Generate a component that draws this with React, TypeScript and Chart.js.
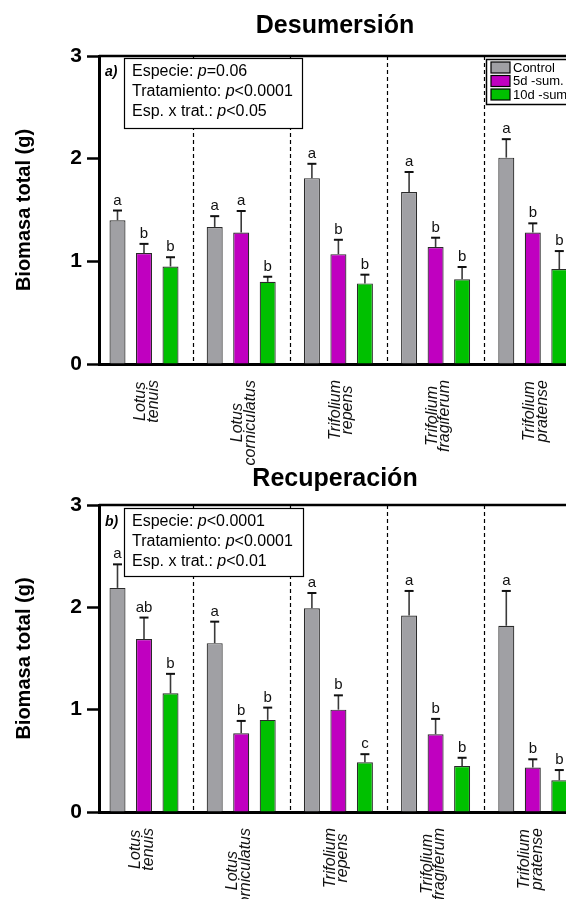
import { useEffect, useRef } from "react";
import { Chart, registerables } from "chart.js";

Chart.register(...registerables);

const FONT = "'Liberation Sans', Arial, Helvetica, sans-serif";

// ---------- data ----------
const categories: string[][] = [
  ["Lotus", "tenuis"],
  ["Lotus", "corniculatus"],
  ["Trifolium", "repens"],
  ["Trifolium", "fragiferum"],
  ["Trifolium", "pratense"],
];
const seriesNames = ["Control", "5d -sum.", "10d -sum."];
const seriesColors = ["#A0A0A4", "#C000C0", "#00C000"];
const yTicks = [0, 1, 2, 3];

// a) Desumersión
const desControl = [1.4, 1.335, 1.81, 1.675, 2.01];
const desControlErr = [0.095, 0.105, 0.14, 0.195, 0.18];
const des5d = [1.08, 1.28, 1.07, 1.14, 1.28];
const des5dErr = [0.09, 0.21, 0.14, 0.09, 0.09];
const des10d = [0.95, 0.8, 0.785, 0.825, 0.925];
const des10dErr = [0.09, 0.05, 0.085, 0.12, 0.175];
const desLetControl = ["a", "a", "a", "a", "a"];
const desLet5d = ["b", "a", "b", "b", "b"];
const desLet10d = ["b", "b", "b", "b", "b"];
const desStats = [
  ["Especie: ", "p", "=0.06"],
  ["Tratamiento: ", "p", "<0.0001"],
  ["Esp. x trat.: ", "p", "<0.05"],
];

// b) Recuperación
const recControl = [2.19, 1.65, 1.99, 1.92, 1.82];
const recControlErr = [0.23, 0.21, 0.15, 0.24, 0.34];
const rec5d = [1.69, 0.77, 1.0, 0.76, 0.435];
const rec5dErr = [0.21, 0.12, 0.14, 0.15, 0.08];
const rec10d = [1.16, 0.9, 0.485, 0.45, 0.31];
const rec10dErr = [0.19, 0.12, 0.08, 0.08, 0.1];
const recLetControl = ["a", "a", "a", "a", "a"];
const recLet5d = ["ab", "b", "b", "b", "b"];
const recLet10d = ["b", "b", "c", "b", "b"];
const recStats = [
  ["Especie: ", "p", "<0.0001"],
  ["Tratamiento: ", "p", "<0.0001"],
  ["Esp. x trat.: ", "p", "<0.01"],
];

// ---------- layout ----------
const CANVAS_W = 640;
const AXIS_LEFT = 99;
const FIRST_CENTER = 144;
const PX_PER_CAT = 97.2;

interface PanelDef {
  title: string;
  tag: string;
  values: number[][];
  errors: number[][];
  letters: string[][];
  stats: string[][];
  legend: boolean;
  offsetTop: number;
  height: number;
  top: number;
  bottomPad: number;
  titleBaseline: number;
  labelShift: number;
  boxRight: number;
  boxBottom: number;
  boxTop: number;
}

const panels: PanelDef[] = [
  {
    title: "Desumersión",
    tag: "a)",
    values: [desControl, des5d, des10d],
    errors: [desControlErr, des5dErr, des10dErr],
    letters: [desLetControl, desLet5d, desLet10d],
    stats: desStats,
    legend: true,
    offsetTop: 0,
    height: 480,
    top: 56,
    bottomPad: 116,
    titleBaseline: 33,
    labelShift: 3,
    boxTop: 2,
    boxRight: 302,
    boxBottom: 72,
  },
  {
    title: "Recuperación",
    tag: "b)",
    values: [recControl, rec5d, rec10d],
    errors: [recControlErr, rec5dErr, rec10dErr],
    letters: [recLetControl, recLet5d, recLet10d],
    stats: recStats,
    legend: false,
    offsetTop: 450,
    height: 449,
    top: 55,
    bottomPad: 87,
    titleBaseline: 36,
    labelShift: -2,
    boxTop: 3,
    boxRight: 303,
    boxBottom: 71,
  },
];

function makeOverlay(p: PanelDef) {
  return {
    id: "overlay",
    beforeDatasetsDraw(chart: any) {
      const { ctx, chartArea, scales } = chart;
      const x = scales.x;
      ctx.save();
      ctx.strokeStyle = "#000";
      ctx.lineWidth = 1.2;
      ctx.setLineDash([4, 3]);
      for (let i = 0; i < categories.length; i++) {
        const px = Math.round(x.getPixelForValue(i + 0.5)) + 0.5;
        ctx.beginPath();
        ctx.moveTo(px, chartArea.top);
        ctx.lineTo(px, chartArea.bottom);
        ctx.stroke();
      }
      ctx.restore();
    },
    afterDraw(chart: any) {
      const { ctx, chartArea, scales } = chart;
      const x = scales.x;
      const y = scales.y;
      ctx.save();
      // top frame line
      ctx.strokeStyle = "#000";
      ctx.lineWidth = 2.5;
      ctx.beginPath();
      ctx.moveTo(chartArea.left, chartArea.top);
      ctx.lineTo(chartArea.right, chartArea.top);
      ctx.stroke();

      // error bars + letters
      p.values.forEach((vals, d) => {
        const meta = chart.getDatasetMeta(d);
        vals.forEach((v, i) => {
          const el = meta.data[i];
          const cap = y.getPixelForValue(v + p.errors[d][i]);
          ctx.strokeStyle = "#3a3a3a";
          ctx.lineWidth = 1.6;
          ctx.beginPath();
          ctx.moveTo(el.x, el.y);
          ctx.lineTo(el.x, cap);
          ctx.stroke();
          ctx.strokeStyle = "#111";
          ctx.lineWidth = 2;
          ctx.beginPath();
          ctx.moveTo(el.x - 4.5, cap);
          ctx.lineTo(el.x + 4.5, cap);
          ctx.stroke();
          ctx.fillStyle = "#111";
          ctx.font = `15px ${FONT}`;
          ctx.textAlign = "center";
          ctx.textBaseline = "alphabetic";
          ctx.fillText(p.letters[d][i], el.x, cap - 6);
        });
      });

      // stats box
      const bl = chartArea.left + 25;
      const bt = chartArea.top + p.boxTop;
      ctx.fillStyle = "#fff";
      ctx.fillRect(bl, bt, p.boxRight - bl, p.boxBottom - p.boxTop);
      ctx.strokeStyle = "#000";
      ctx.lineWidth = 1.2;
      ctx.strokeRect(bl + 0.5, bt + 0.5, p.boxRight - bl, p.boxBottom - p.boxTop);
      ctx.fillStyle = "#000";
      ctx.textAlign = "left";
      ctx.textBaseline = "middle";
      p.stats.forEach((parts, j) => {
        let cx = bl + 8;
        const cy = bt + 14 + j * 20;
        parts.forEach((t, k) => {
          ctx.font = `${k === 1 ? "italic " : ""}16px ${FONT}`;
          ctx.fillText(t, cx, cy);
          cx += ctx.measureText(t).width;
        });
      });
      // tag a) / b)
      ctx.font = `italic bold 14px ${FONT}`;
      ctx.fillText(p.tag, chartArea.left + 6, bt + 14);

      // legend
      if (p.legend) {
        const lx = 486;
        const ly = chartArea.top + 3;
        ctx.fillStyle = "#fff";
        ctx.fillRect(lx, ly, 300, 45);
        ctx.strokeStyle = "#000";
        ctx.lineWidth = 1.5;
        ctx.strokeRect(lx + 0.5, ly + 0.5, 300, 45);
        seriesNames.forEach((name, k) => {
          const sy = ly + 3 + k * 13.5;
          ctx.fillStyle = seriesColors[k];
          ctx.fillRect(lx + 5, sy, 19, 11);
          ctx.strokeStyle = "#000";
          ctx.lineWidth = 1.2;
          ctx.strokeRect(lx + 5, sy, 19, 11);
          ctx.fillStyle = "#000";
          ctx.font = `13px ${FONT}`;
          ctx.textBaseline = "middle";
          ctx.fillText(name, lx + 27, sy + 6);
        });
      }

      // x labels (rotated, lines centred)
      ctx.fillStyle = "#111";
      ctx.font = `italic 16px ${FONT}`;
      ctx.textAlign = "center";
      ctx.textBaseline = "middle";
      const lh = 12.5;
      categories.forEach((lines, i) => {
        const cx = x.getPixelForValue(i) + p.labelShift;
        const maxW = Math.max(...lines.map((l) => ctx.measureText(l).width));
        const cy = chartArea.bottom + 16 + maxW / 2;
        lines.forEach((l, j) => {
          const lx2 = cx + (j - (lines.length - 1) / 2) * lh;
          ctx.save();
          ctx.translate(lx2, cy);
          ctx.rotate(-Math.PI / 2);
          ctx.fillText(l, 0, 0);
          ctx.restore();
        });
      });

      // y title
      ctx.save();
      ctx.fillStyle = "#000";
      ctx.font = `bold 20px ${FONT}`;
      ctx.textAlign = "center";
      ctx.textBaseline = "alphabetic";
      ctx.translate(30, (chartArea.top + chartArea.bottom) / 2);
      ctx.rotate(-Math.PI / 2);
      ctx.fillText("Biomasa total (g)", 0, 0);
      ctx.restore();

      // title
      ctx.fillStyle = "#000";
      ctx.font = `bold 25px ${FONT}`;
      ctx.textAlign = "center";
      ctx.textBaseline = "alphabetic";
      ctx.fillText(p.title, 335, p.titleBaseline);
      ctx.restore();
    },
  };
}

function Panel({ p }: { p: PanelDef }) {
  const ref = useRef<HTMLCanvasElement | null>(null);
  useEffect(() => {
    if (!ref.current) return;
    const xMin = -(FIRST_CENTER - AXIS_LEFT) / PX_PER_CAT;
    const xMax = xMin + (CANVAS_W - AXIS_LEFT) / PX_PER_CAT;
    const chart = new Chart(ref.current, {
      type: "bar",
      data: {
        datasets: p.values.map((vals, d) => ({
          label: seriesNames[d],
          data: vals.map((v, i) => ({ x: i, y: v })),
          backgroundColor: seriesColors[d],
          borderColor: "#2a2a2a",
          borderWidth: 1.2,
          categoryPercentage: 0.818,
          barPercentage: 0.604,
        })),
      },
      options: {
        animation: false,
        responsive: false,
        devicePixelRatio: 1,
        layout: { padding: { top: p.top, left: 0, right: 0, bottom: 0 } },
        plugins: { legend: { display: false }, title: { display: false }, tooltip: { enabled: false } },
        scales: {
          x: {
            type: "linear",
            offset: false,
            min: xMin,
            max: xMax,
            afterBuildTicks: (s: any) => {
              s.ticks = categories.map((_, i) => ({ value: i }));
            },
            afterFit: (s: any) => {
              s.height = p.bottomPad;
            },
            ticks: { display: false },
            grid: { display: false, offset: false },
            border: { display: true, width: 3, color: "#000" },
          },
          y: {
            min: 0,
            max: 3,
            afterBuildTicks: (s: any) => {
              s.ticks = yTicks.map((v) => ({ value: v }));
            },
            afterFit: (s: any) => {
              s.width = AXIS_LEFT;
            },
            ticks: {
              color: "#000",
              padding: 5,
              font: { family: FONT, size: 21, weight: "bold" },
            },
            grid: {
              display: true,
              drawOnChartArea: false,
              drawTicks: true,
              tickLength: 12,
              tickWidth: 2.5,
              tickColor: "#000",
            },
            border: { display: true, width: 3, color: "#000" },
          },
        },
      } as any,
      plugins: [makeOverlay(p)],
    });
    return () => chart.destroy();
  }, [p]);
  return (
    <canvas
      ref={ref}
      width={CANVAS_W}
      height={p.height}
      style={{ display: "block", position: "absolute", left: 0, top: p.offsetTop }}
    />
  );
}

export default function App() {
  return (
    <div
      style={{
        position: "absolute",
        left: 0,
        top: 0,
        width: 566,
        height: 899,
        overflow: "hidden",
        background: "#fff",
      }}
    >
      {panels.map((p, i) => (
        <Panel key={i} p={p} />
      ))}
    </div>
  );
}
